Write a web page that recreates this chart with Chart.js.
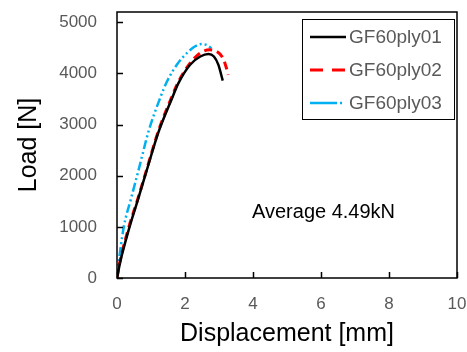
<!DOCTYPE html>
<html>
<head>
<meta charset="utf-8">
<script src="https://cdn.jsdelivr.net/npm/chart.js@4.4.1/dist/chart.umd.min.js"></script>
<style>
    html, body { margin: 0; padding: 0; background: #ffffff; }
    #wrap { width: 467px; height: 352px; }
</style>
</head>
<body>
<div id="wrap"><canvas id="chart"></canvas></div>
<script>
// values
const seriesNames = ["GF60ply01", "GF60ply02", "GF60ply03"];
const ply01Disp = [0, 0.1, 0.37, 0.6, 0.85, 1.22, 1.61, 1.8, 2.15, 2.45, 2.69, 2.85, 2.98, 3.11];
const ply01Load = [0, 330, 1000, 1500, 2050, 2850, 3500, 3800, 4170, 4330, 4380, 4330, 4170, 3860];
const ply02Disp = [0, 0.08, 0.35, 0.6, 0.85, 1.22, 1.6, 1.8, 2.15, 2.45, 2.72, 2.95, 3.12, 3.22, 3.27];
const ply02Load = [0, 300, 1000, 1520, 2070, 2880, 3520, 3830, 4200, 4400, 4460, 4420, 4295, 4100, 3970];
const ply03Disp = [0, 0.04, 0.2, 0.4, 0.63, 0.93, 1.27, 1.47, 1.76, 2.1, 2.3, 2.49, 2.65, 2.78];
const ply03Load = [0, 250, 1000, 1520, 2100, 2870, 3520, 3840, 4170, 4425, 4530, 4575, 4550, 4490];
const xTicks = [0, 2, 4, 6, 8, 10];
const yTicks = [0, 1000, 2000, 3000, 4000, 5000];
const noteText = "Average 4.49kN";

function toPoints(xs, ys) {
    let pts = [];
    for (let i = 0; i < xs.length; i++) {
        pts.push({ x: xs[i], y: ys[i] });
    }
    return pts;
}

const fontFamily = "'Liberation Sans', Arial, sans-serif";
const lineColors = ["#000000", "#ff0000", "#00b0f0"];
const lineDashes = [[], [8, 5], [9, 3, 2, 3, 2, 3]];
const legendDashes = [[], [13, 9], [27, 3, 2, 20]];
const lineWidths = [2.5, 3, 2.5];

// frame, inward tick marks, custom legend and the note
const decorations = {
    id: 'decorations',
    afterDraw(chart) {
        const ctx = chart.ctx;
        const area = chart.chartArea;
        const xs = chart.scales.x;
        const ys = chart.scales.y;
        ctx.save();
        ctx.strokeStyle = "#000000";
        ctx.lineWidth = 1.5;
        ctx.strokeRect(area.left, area.top, area.right - area.left, area.bottom - area.top);
        ctx.beginPath();
        xTicks.forEach(v => {
            const px = Math.round(xs.getPixelForValue(v)) + 0.5;
            ctx.moveTo(px, area.bottom);
            ctx.lineTo(px, area.bottom - 6);
        });
        yTicks.forEach(v => {
            const py = Math.round(ys.getPixelForValue(v)) + 0.5;
            ctx.moveTo(area.left, py);
            ctx.lineTo(area.left + 6, py);
        });
        ctx.stroke();

        // legend box
        ctx.fillStyle = "#ffffff";
        ctx.fillRect(302, 19, 152, 100);
        ctx.lineWidth = 1;
        ctx.strokeStyle = "#000000";
        ctx.strokeRect(302.5, 19.5, 152, 100);
        const rows = [37, 70, 103];
        ctx.font = "19px " + fontFamily;
        ctx.textBaseline = "middle";
        chart.data.datasets.forEach((ds, i) => {
            ctx.beginPath();
            ctx.strokeStyle = ds.borderColor;
            ctx.lineWidth = ds.borderWidth;
            ctx.setLineDash(legendDashes[i]);
            ctx.moveTo(310, rows[i]);
            ctx.lineTo(346, rows[i]);
            ctx.stroke();
            ctx.setLineDash([]);
            ctx.fillStyle = "#595959";
            ctx.textAlign = "left";
            ctx.fillText(ds.label, 349, rows[i] + 1);
        });

        ctx.fillStyle = "#000000";
        ctx.font = "20px " + fontFamily;
        ctx.textAlign = "left";
        ctx.fillText(noteText, 252, 212);
        ctx.restore();
    }
};

const config = {
    type: 'scatter',
    data: {
        datasets: [
            { data: toPoints(ply01Disp, ply01Load) },
            { data: toPoints(ply02Disp, ply02Load) },
            { data: toPoints(ply03Disp, ply03Load) }
        ].map((ds, i) => ({
            label: seriesNames[i],
            data: ds.data,
            showLine: true,
            borderColor: lineColors[i],
            backgroundColor: lineColors[i],
            borderWidth: lineWidths[i],
            borderDash: lineDashes[i],
            pointRadius: 0,
            cubicInterpolationMode: 'monotone'
        }))
    },
    options: {
        responsive: false,
        animation: false,
        layout: { padding: { left: 0, right: 10, top: 12, bottom: 0 } },
        plugins: {
            legend: { display: false },
            tooltip: { enabled: false }
        },
        scales: {
            x: {
                type: 'linear',
                min: 0,
                max: 10,
                afterBuildTicks: scale => { scale.ticks = xTicks.map(v => ({ value: v })); },
                afterFit: scale => {
                    scale.height = 74;
                    scale.paddingLeft = 0;
                    scale.paddingRight = 0;
                },
                grid: { display: false },
                border: { display: false },
                ticks: {
                    color: "#595959",
                    font: { family: fontFamily, size: 17 },
                    padding: 8,
                    maxRotation: 0,
                    callback: value => `${value}`
                },
                title: {
                    display: true,
                    text: "Displacement [mm]",
                    color: "#000000",
                    font: { family: fontFamily, size: 25 },
                    padding: { top: 0, bottom: 3 }
                }
            },
            y: {
                type: 'linear',
                min: 0,
                max: 5200,
                afterBuildTicks: scale => { scale.ticks = yTicks.map(v => ({ value: v })); },
                afterFit: scale => {
                    scale.width = 117;
                    scale.paddingTop = 0;
                    scale.paddingBottom = 0;
                },
                grid: { display: false },
                border: { display: false },
                ticks: {
                    color: "#595959",
                    font: { family: fontFamily, size: 17 },
                    padding: 12,
                    callback: value => `${value}`
                },
                title: {
                    display: true,
                    text: "Load [N]",
                    color: "#000000",
                    font: { family: fontFamily, size: 25 },
                    padding: { top: 14, bottom: 0 }
                }
            }
        }
    },
    plugins: [decorations]
};

const canvas = document.getElementById("chart");
canvas.width = 467;
canvas.height = 352;
const graph = new Chart(canvas, config);
</script>
</body>
</html>
